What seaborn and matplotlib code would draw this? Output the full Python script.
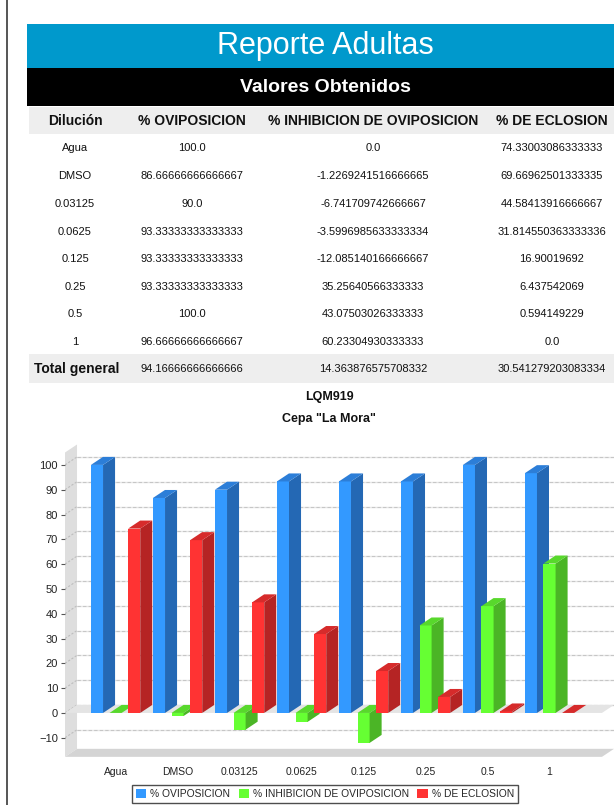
import numpy as np
import pandas as pd
import matplotlib
matplotlib.use("Agg")
import matplotlib.pyplot as plt
from matplotlib.patches import Rectangle, Polygon, Patch
from matplotlib.lines import Line2D
import seaborn as sns

# ---- data ----
diluciones = ["Agua", "DMSO", "0.03125", "0.0625", "0.125", "0.25", "0.5", "1"]
oviposicion = [100.0, 86.66666666666667, 90.0, 93.33333333333333,
               93.33333333333333, 93.33333333333333, 100.0, 96.66666666666667]
inhibicion = [0.0, -1.2269241516666665, -6.741709742666667, -3.5996985633333334,
              -12.085140166666667, 35.25640566333333, 43.07503026333333, 60.23304930333333]
eclosion = [74.33003086333333, 69.66962501333335, 44.58413916666667, 31.814550363333336,
            16.90019692, 6.437542069, 0.594149229, 0.0]
total_general = [94.16666666666666, 14.363876575708332, 30.541279203083334]
series = ["% OVIPOSICION", "% INHIBICION DE OVIPOSICION", "% DE ECLOSION"]
y_ticks = list(range(-10, 101, 10))

# ---- style ----
sns.set_style("white")
plt.rcParams["font.family"] = ["Liberation Sans", "DejaVu Sans"]

front_colors = ["#3399FF", "#66FF33", "#FF3333"]
side_colors = ["#2468B4", "#4BB526", "#B52424"]
top_colors = ["#2C7ED8", "#58D82C", "#D62B2B"]

W, H = 614, 805
fig = plt.figure(figsize=(W / 100, H / 100), dpi=100)


def fx(px):
    return px / W


def fy(py):
    return 1 - py / H


def band(x0, y0, x1, y1, color):
    fig.patches.append(Rectangle((fx(x0), fy(y1)), (x1 - x0) / W, (y1 - y0) / H,
                                 transform=fig.transFigure, facecolor=color,
                                 edgecolor="none", zorder=0))


# page margin rule
fig.add_artist(Line2D([fx(7), fx(7)], [0, 1], color="#555555", lw=1.4))

# report header
band(27, 24, 614, 68, "#0099CC")
band(27, 68, 614, 106, "#000000")
fig.text(fx(325), fy(46), "Reporte Adultas", ha="center", va="center",
         color="white", fontsize=22)
fig.text(fx(325), fy(88), "Valores Obtenidos", ha="center", va="center",
         color="white", fontsize=14, fontweight="bold")

# ---- table ----
band(29, 107, 614, 134, "#EEEEEE")
band(29, 354, 614, 383, "#EEEEEE")
col_x = [75, 192, 373, 552]
headers = ["Dilución"] + series
for x, h in zip(col_x, headers):
    fig.text(fx(x), fy(121), h, ha="center", va="center", fontsize=10,
             fontweight="bold", color="#111111")
row_y = [148, 176, 204, 232, 259, 287, 314, 342]
for i, y in enumerate(row_y):
    cells = [diluciones[i], repr(oviposicion[i]), repr(inhibicion[i]), repr(eclosion[i])]
    for x, c in zip(col_x, cells):
        fig.text(fx(x), fy(y), c, ha="center", va="center", fontsize=8,
                 color="#111111")
fig.text(fx(77), fy(369), "Total general", ha="center", va="center",
         fontsize=10, fontweight="bold", color="#111111")
for x, v in zip(col_x[1:], total_general):
    fig.text(fx(x), fy(369), repr(v), ha="center", va="center", fontsize=8,
             color="#111111")

# ---- chart titles ----
fig.text(fx(329), fy(397), "LQM919", ha="center", va="center", fontsize=9,
         fontweight="bold", color="#111111")
fig.text(fx(329), fy(419), 'Cepa "La Mora"', ha="center", va="center",
         fontsize=9, fontweight="bold", color="#111111")

# ---- 3D-style bar chart ----
XL, XR = -0.816, 8.04          # front-left wall and right edge (category units)
YB, YT = -18.0, 109.0
DX, DY = 0.194, 3.23           # depth offset of the back plane
FLOOR, WALL_TOP = -17.7, 105.0

ax = fig.add_axes([fx(65), 0.0589, (W - 65) / W, 0.3913])

df = pd.DataFrame({"Dilución": diluciones, series[0]: oviposicion,
                   series[1]: inhibicion, series[2]: eclosion})
long_df = df.melt(id_vars="Dilución", var_name="serie", value_name="valor")

sns.barplot(data=long_df, x="Dilución", y="valor", hue="serie",
            order=diluciones, hue_order=series, palette=front_colors,
            saturation=1, width=0.9, gap=0.35, errorbar=None, legend=False,
            linewidth=0, ax=ax)
bars = [p for p in ax.patches if isinstance(p, Rectangle)]

# walls, floor and gridlines
ax.add_patch(Polygon([(XL, FLOOR), (XL, WALL_TOP), (XL + DX, WALL_TOP + DY),
                      (XL + DX, FLOOR + DY)], closed=True, facecolor="#DEDEDE",
                     edgecolor="none", zorder=0.5))
ax.add_patch(Polygon([(XL, FLOOR), (XR - DX, FLOOR), (XR, FLOOR + DY),
                      (XL + DX, FLOOR + DY)], closed=True, facecolor="#D4D4D4",
                     edgecolor="none", zorder=0.5))
for v in y_ticks:
    ax.plot([XL + DX, XR], [v + DY, v + DY], color="#E6E6E6", lw=1.0, zorder=0.8)
    ax.plot([XL + DX, XR], [v + DY, v + DY], color="#C6C6C6", lw=0.8,
            dashes=(3, 2), zorder=0.9)
    ax.plot([XL, XL + DX], [v, v + DY], color="#BDBDBD", lw=0.8,
            dashes=(2, 1.5), zorder=0.9)
ax.add_patch(Polygon([(XL, 0), (XR - DX, 0), (XR, DY), (XL + DX, DY)],
                     closed=True, facecolor="#E4E4E4", edgecolor="none",
                     zorder=1.2))

# extrude each seaborn bar: side and top faces, painted left to right
bars.sort(key=lambda p: p.get_x())
for j, p in enumerate(bars):
    fc = p.get_facecolor()
    k = int(np.argmin([np.abs(np.array(matplotlib.colors.to_rgba(c)) - fc).sum()
                       for c in front_colors]))
    x0, w = p.get_x(), p.get_width()
    y0, h = p.get_y(), p.get_height()
    top, bot = max(y0, y0 + h), min(y0, y0 + h)
    z = 3 + j * 0.01
    p.set_zorder(z)
    ax.add_patch(Polygon([(x0 + w, bot), (x0 + w, top), (x0 + w + DX, top + DY),
                          (x0 + w + DX, bot + DY)], closed=True,
                         facecolor=side_colors[k], edgecolor="none", zorder=z + 0.001))
    ax.add_patch(Polygon([(x0, top), (x0 + DX, top + DY), (x0 + w + DX, top + DY),
                          (x0 + w, top)], closed=True,
                         facecolor=top_colors[k], edgecolor="none", zorder=z + 0.002))

ax.set_xlim(XL, XR)
ax.set_ylim(YB, YT)
ax.set_yticks(y_ticks)
ax.set_xlabel("")
ax.set_ylabel("")
ax.set_facecolor("none")
for s in ax.spines.values():
    s.set_visible(False)
ax.tick_params(axis="y", left=True, length=3, width=0.8, color="#555555",
               labelsize=8, labelcolor="#222222", pad=2)
ax.tick_params(axis="x", length=0, labelsize=7.5, labelcolor="#222222", pad=7)

# legend
handles = [Patch(facecolor=c, edgecolor="none", label=s)
           for c, s in zip(front_colors, series)]
leg = fig.legend(handles=handles, loc="center", bbox_to_anchor=(fx(325), fy(794)),
                 ncol=3, fontsize=7.4, frameon=True, fancybox=False,
                 edgecolor="#222222", handlelength=1.0, handleheight=1.0,
                 handletextpad=0.4, columnspacing=0.8, borderpad=0.35,
                 borderaxespad=0)
leg.get_frame().set_linewidth(1.0)

fig.savefig("out.png", dpi=100)
